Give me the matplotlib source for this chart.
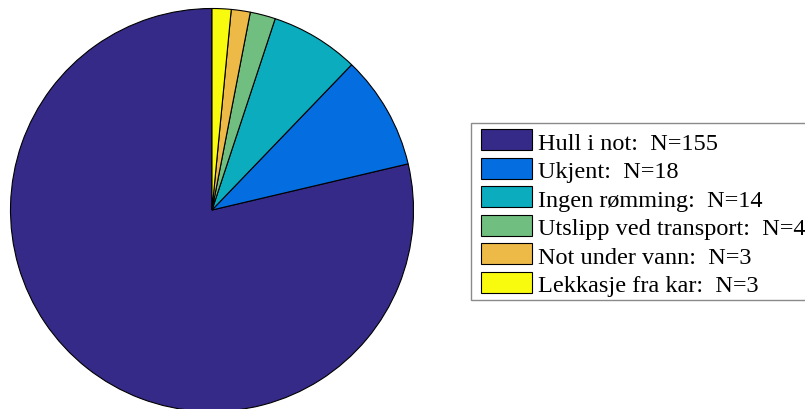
import matplotlib
matplotlib.use("Agg")
import matplotlib.pyplot as plt
from matplotlib.patches import Rectangle

categories = ["Hull i not", "Ukjent", "Ingen rømming", "Utslipp ved transport",
              "Not under vann", "Lekkasje fra kar"]
counts = [155, 18, 14, 4, 3, 3]
colors = ["#352A87", "#046DE0", "#0AACBE", "#71BF80", "#EDBA48", "#F9FB0E"]
labels = [f"{c}:  N={n}" for c, n in zip(categories, counts)]

W, H = 805, 410
fig = plt.figure(figsize=(W / 100, H / 100), dpi=100)
fig.patch.set_facecolor("white")
ax = fig.add_axes([0, 0, 1, 1])

cx, cy, r = 212, H - 211, 201.5
wedges, _ = ax.pie(counts, colors=colors, startangle=90, counterclock=True,
                   center=(cx, cy), radius=r, frame=True,
                   wedgeprops=dict(edgecolor="black", linewidth=0.8))
ax.set_xlim(0, W)
ax.set_ylim(0, H)
ax.set_aspect("equal")
ax.axis("off")

# legend (pixel coordinates, y measured from top)
box_left, box_top, box_bottom = 471, 124, 300.7
ax.add_patch(Rectangle((box_left, H - box_bottom), 400, box_bottom - box_top,
                       facecolor="white", edgecolor="#8a8a8a", linewidth=1.0,
                       zorder=3))
row0, step = 140.5, 28.5
for i, (w, lab) in enumerate(zip(wedges, labels)):
    yc = row0 + step * i
    ax.add_patch(Rectangle((481, H - yc - 10.5), 51, 21,
                           facecolor=w.get_facecolor(), edgecolor="black",
                           linewidth=0.8, zorder=4))
    ax.text(538, H - (yc + 9.5), lab, fontsize=17.5, family="Liberation Serif",
            va="baseline", ha="left", color="black", zorder=5)

fig.savefig("out.png", dpi=100)
